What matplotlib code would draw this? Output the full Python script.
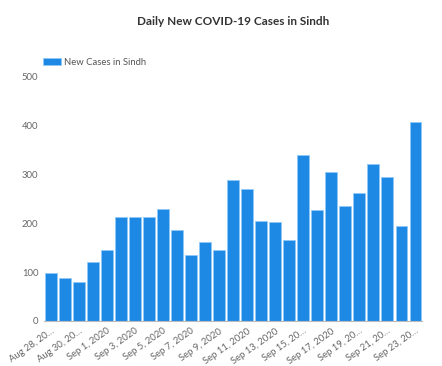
import matplotlib
matplotlib.use("Agg")
import matplotlib.pyplot as plt
import numpy as np

dates = ["Aug 28", "Aug 29", "Aug 30", "Aug 31", "Sep 1", "Sep 2", "Sep 3", "Sep 4",
         "Sep 5", "Sep 6", "Sep 7", "Sep 8", "Sep 9", "Sep 10", "Sep 11", "Sep 12",
         "Sep 13", "Sep 14", "Sep 15", "Sep 16", "Sep 17", "Sep 18", "Sep 19", "Sep 20",
         "Sep 21", "Sep 22", "Sep 23"]
cases = [97, 87, 79, 120, 145, 212, 212, 212, 228, 186, 135, 161, 145, 287, 269, 204,
         203, 165, 339, 226, 305, 235, 262, 320, 294, 193, 407]
tick_labels = ["Aug 28, 20…", "Aug 30, 20…", "Sep 1, 2020", "Sep 3, 2020", "Sep 5, 2020",
               "Sep 7, 2020", "Sep 9, 2020", "Sep 11, 2020", "Sep 13, 2020", "Sep 15, 20…",
               "Sep 17, 2020", "Sep 19, 20…", "Sep 21, 20…", "Sep 23, 20…"]
y_ticks = [0, 100, 200, 300, 400, 500]

plt.rcParams['font.family'] = ['Lato', 'DejaVu Sans']

fig = plt.figure(figsize=(4.42, 3.66), dpi=100)
ax = fig.add_axes([0.0995, 0.123, 0.8555, 0.669])

x = np.arange(len(cases))
ax.bar(x, cases, width=0.8, color='#1E88E5', edgecolor='#90CAF9', linewidth=0.6,
       label='New Cases in Sindh')
ax.set_xlim(-0.5, len(cases) - 0.5)
ax.set_ylim(0, 500)
ax.set_yticks(y_ticks)
ax.set_yticklabels([str(v) for v in y_ticks], fontsize=6.8, color='#666666')
ax.set_xticks(x[::2])
ax.set_xticklabels(tick_labels, rotation=35, ha='right', rotation_mode='anchor',
                   fontsize=6.8, color='#666666')
ax.tick_params(axis='both', length=0, pad=4)
for s in ['top', 'right', 'left']:
    ax.spines[s].set_visible(False)
ax.spines['bottom'].set_color('#BBBBBB')
ax.spines['bottom'].set_linewidth(0.8)

fig.text(0.527, 0.942, 'Daily New COVID-19 Cases in Sindh', ha='center', va='center',
         fontsize=8.5, fontweight='bold', color='#333333')

leg = fig.legend(loc='center left', bbox_to_anchor=(0.078, 0.83), frameon=False,
                 fontsize=6.8, handlelength=1.9, handleheight=0.9, handletextpad=0.35)
for t in leg.get_texts():
    t.set_color('#555555')

fig.savefig('out.png', dpi=100)
